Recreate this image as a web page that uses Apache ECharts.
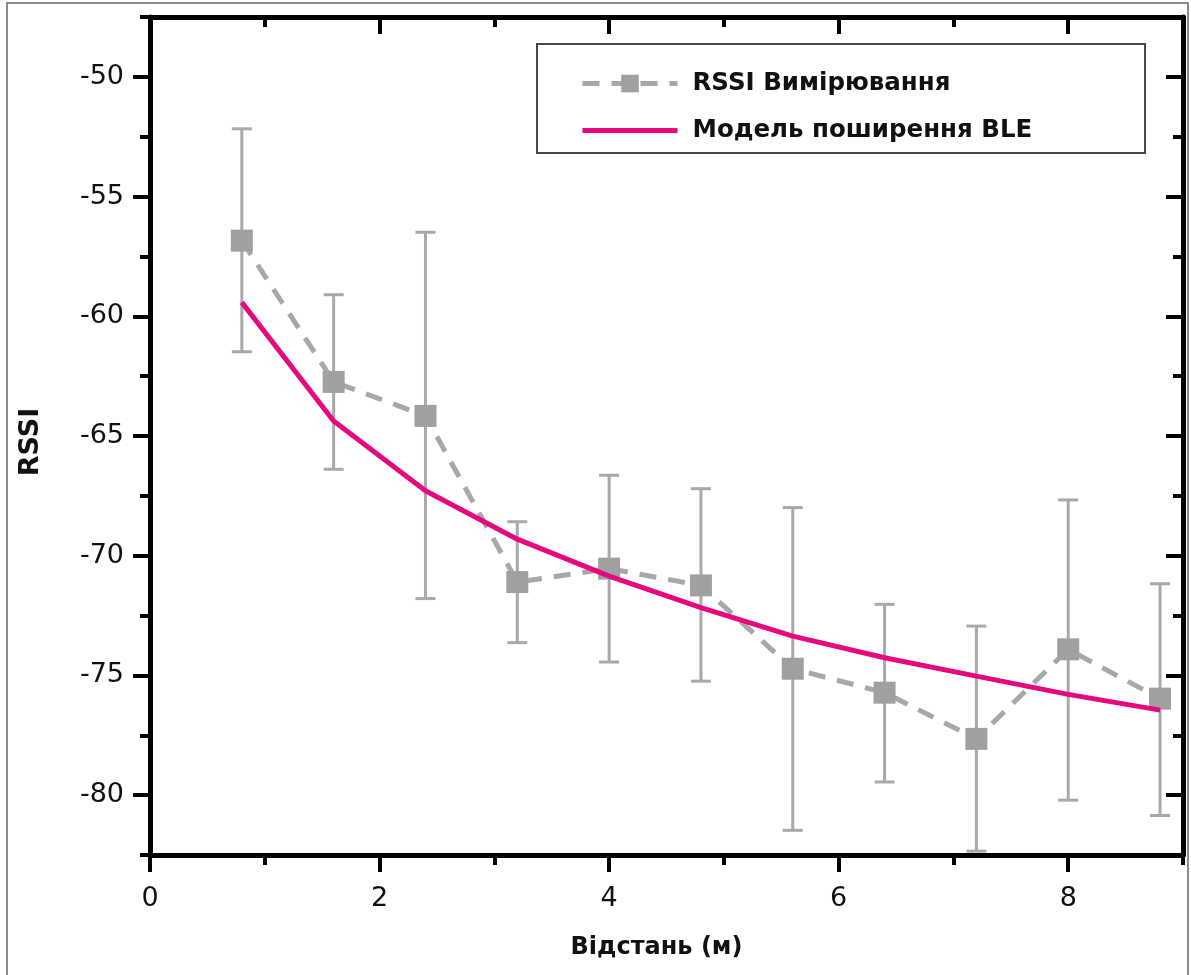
<!DOCTYPE html>
<html>
<head>
<meta charset="utf-8">
<script src="https://cdn.jsdelivr.net/npm/echarts@6/dist/echarts.min.js"></script>
<style>
html,body{margin:0;padding:0;background:#fff;}
#chart{width:1191px;height:975px;}
</style>
</head>
<body>
<div id="chart"></div>
<script>
// ---- data ----
const distances = [0.8, 1.6, 2.4, 3.2, 4.0, 4.8, 5.6, 6.4, 7.2, 8.0, 8.8];
const rssiMeasured = [-56.84, -62.74, -64.16, -71.10, -70.54, -71.24, -74.72, -75.72, -77.65, -73.91, -75.97];
const rssiLow = [-61.48, -66.39, -71.79, -73.63, -74.44, -75.24, -81.47, -79.45, -82.34, -80.21, -80.85];
const rssiHigh = [-52.17, -59.10, -56.49, -68.58, -66.64, -67.20, -67.99, -72.03, -72.94, -67.67, -71.17];
const modelBLE = [-59.42, -64.37, -67.29, -69.31, -70.85, -72.17, -73.36, -74.26, -75.03, -75.79, -76.45];
const xMajorTicks = [0, 2, 4, 6, 8];
const xMinorTicks = [1, 3, 5, 7, 9];
const yMajorTicks = [-80, -75, -70, -65, -60, -55, -50];
const yMinorTicks = [-82.5, -77.5, -72.5, -67.5, -62.5, -57.5, -52.5, -47.5];
const seriesNames = ['RSSI Вимірювання', 'Модель поширення BLE'];
const xName = 'Відстань (м)';
const yName = 'RSSI';

const measuredData = distances.map((d, i) => [d, rssiMeasured[i]]);
const modelData = distances.map((d, i) => [d, modelBLE[i]]);
const errData = distances.map((d, i) => [d, rssiLow[i], rssiHigh[i]]);

const labelFont = {fontFamily: 'DejaVu Sans', fontSize: 27, color: '#111'};
const nameFont = {fontFamily: 'DejaVu Sans', fontWeight: 'bold', fontSize: 24, color: '#111'};

function mkX(pos, major, inside, showLine) {
  return {
    type: 'value', min: 0, max: 9, position: pos,
    axisLine: {show: showLine, onZero: false, lineStyle: {color: '#000', width: 5}},
    axisTick: {show: true, inside: inside, length: major ? 17 : 10,
      customValues: major ? xMajorTicks : xMinorTicks,
      lineStyle: {color: '#000', width: 4}},
    axisLabel: {show: false},
    splitLine: {show: false}
  };
}
function mkY(pos, major, inside, showLine) {
  return {
    type: 'value', min: -82.5, max: -47.5, position: pos,
    axisLine: {show: showLine, onZero: false, lineStyle: {color: '#000', width: 5}},
    axisTick: {show: true, inside: inside, length: major ? 17 : 10,
      customValues: major ? yMajorTicks : yMinorTicks,
      lineStyle: {color: '#000', width: 4}},
    axisLabel: {show: false},
    splitLine: {show: false}
  };
}

const xAxes = [mkX('bottom', true, false, true), mkX('bottom', false, false, false),
               mkX('top', true, true, true), mkX('top', false, true, false)];
xAxes[0].axisLabel = Object.assign({show: true, margin: 30, customValues: xMajorTicks}, labelFont);
xAxes[0].name = xName;
xAxes[0].nameLocation = 'middle';
xAxes[0].nameGap = 81;
xAxes[0].nameTextStyle = Object.assign({}, nameFont, {padding: [0, 20, 0, 0]});

const yAxes = [mkY('left', true, false, true), mkY('left', false, false, false),
               mkY('right', true, true, true), mkY('right', false, true, false)];
yAxes[0].axisLabel = Object.assign({show: true, margin: 26, customValues: yMajorTicks}, labelFont);
yAxes[0].name = yName;
yAxes[0].nameLocation = 'middle';
yAxes[0].nameGap = 106;
yAxes[0].nameTextStyle = Object.assign({}, nameFont, {fontSize: 27, padding: [0, 12, 0, 0]});

const chart = echarts.init(document.getElementById('chart'));
chart.setOption({
  animation: false,
  backgroundColor: '#fff',
  grid: {left: 150, right: 8, top: 17, bottom: 120, containLabel: false},
  xAxis: xAxes,
  yAxis: yAxes,
  legend: {
    data: [
      {name: seriesNames[0]},
      {name: seriesNames[1], itemStyle: {opacity: 0}}
    ],
    orient: 'vertical',
    left: 580, top: 71,
    itemWidth: 95, itemHeight: 22, itemGap: 22,
    lineStyle: {width: 5},
    textStyle: {fontFamily: 'DejaVu Sans', fontWeight: 'bold', fontSize: 24.5, color: '#111', padding: [0, 0, 0, 10]},
    padding: 0
  },
  graphic: [
    {type: 'rect', shape: {x: 7, y: 3, width: 1181, height: 990}, style: {fill: 'none', stroke: '#666', lineWidth: 1.5}, silent: true},
    {type: 'rect', shape: {x: 537, y: 44, width: 608, height: 109}, style: {fill: 'none', stroke: '#4a4a4a', lineWidth: 2}, silent: true}
  ],
  series: [
    {
      type: 'custom', name: 'err', xAxisIndex: 0, yAxisIndex: 0, z: 1,
      data: errData,
      encode: {x: 0, y: [1, 2]},
      renderItem: function (params, api) {
        const x = api.value(0);
        const lo = api.coord([x, api.value(1)]);
        const hi = api.coord([x, api.value(2)]);
        const hw = 10;
        const st = {stroke: '#a9a9a9', lineWidth: 3};
        return {type: 'group', children: [
          {type: 'line', shape: {x1: lo[0], y1: lo[1], x2: hi[0], y2: hi[1]}, style: st},
          {type: 'line', shape: {x1: hi[0] - hw, y1: hi[1], x2: hi[0] + hw, y2: hi[1]}, style: st},
          {type: 'line', shape: {x1: lo[0] - hw, y1: lo[1], x2: lo[0] + hw, y2: lo[1]}, style: st}
        ]};
      }
    },
    {
      type: 'line', name: seriesNames[0], xAxisIndex: 0, yAxisIndex: 0, z: 2,
      data: measuredData,
      symbol: 'rect', symbolSize: 22,
      itemStyle: {color: '#a0a0a0'},
      lineStyle: {color: '#a8a8a8', width: 5, type: [17, 12]}
    },
    {
      type: 'line', name: seriesNames[1], xAxisIndex: 0, yAxisIndex: 0, z: 3,
      data: modelData,
      symbol: 'none',
      itemStyle: {color: '#e6087f'},
      lineStyle: {color: '#e6087f', width: 5}
    }
  ]
});
</script>
</body>
</html>
